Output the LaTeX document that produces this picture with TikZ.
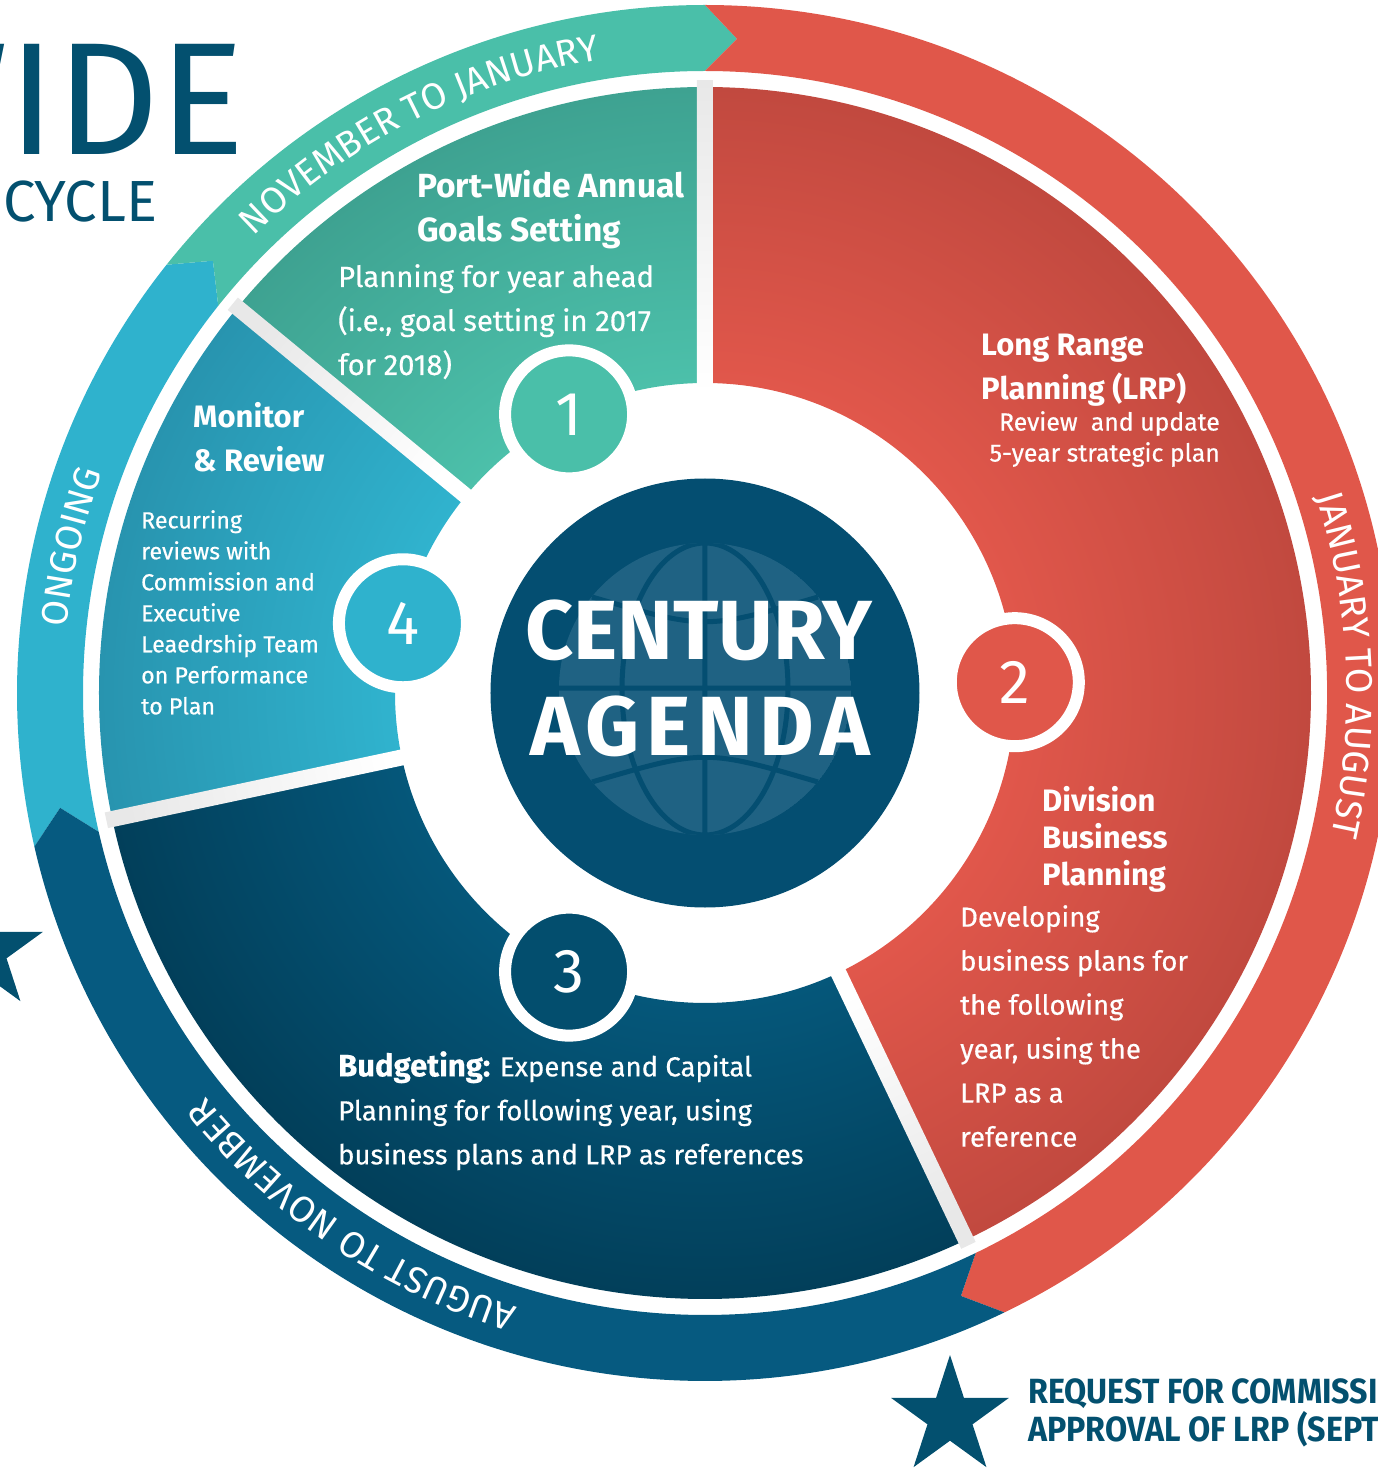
\documentclass[tikz,border=0pt]{standalone}
\usepackage{fontspec}
\setmainfont{Fira Sans}
\newfontfamily\medfont{Fira Sans}[FakeBold=0.5]
\newfontfamily\narrowfont{Fira Sans}[FakeStretch=0.92]
\usetikzlibrary{shapes.geometric,decorations.text}

\definecolor{tealband}{HTML}{4ABFA9}
\definecolor{redband}{HTML}{E0574A}
\definecolor{blueband}{HTML}{065A80}
\definecolor{cyanband}{HTML}{2FB2CD}
\definecolor{tealL}{HTML}{4CC0AA}
\definecolor{tealD}{HTML}{3EA291}
\definecolor{cyanL}{HTML}{30B3CE}
\definecolor{cyanD}{HTML}{2894AF}
\definecolor{blueL}{HTML}{05577A}
\definecolor{blueD}{HTML}{023F5A}
\definecolor{redL}{HTML}{E1574B}
\definecolor{redD}{HTML}{C1493F}
\definecolor{numblue}{HTML}{034E6E}
\definecolor{hubblue}{HTML}{044E71}
\definecolor{globeblue}{HTML}{1F6283}
\definecolor{titleblue}{HTML}{03506F}

% radial shading: flat up to the inner edge, darker towards the rim
\newcommand\sectorshade[3]{\pgfdeclareradialshading{#1}{\pgfpointorigin}{color(0bp)=(#2); color(12.8bp)=(#2); color(25bp)=(#3); color(50bp)=(#3)}}
\sectorshade{tealshade}{tealL}{tealD}
\sectorshade{cyanshade}{cyanL}{cyanD}
\sectorshade{blueshade}{blueL}{blueD}
\sectorshade{redshade}{redL}{redD}

\newcommand\bandfont{\fontsize{37}{37}\selectfont}

\begin{document}
\begin{tikzpicture}[x=1pt,y=1pt,
  numcirc/.style={circle,draw=white,line width=12pt,minimum size=128pt,inner sep=0pt,text=white,font=\fontsize{62}{62}\selectfont},
  sectitle/.style={anchor=north west,align=left,inner sep=0pt,text=white,font=\bfseries\fontsize{31}{44}\selectfont},
  secbody/.style={anchor=north west,align=left,inner sep=0pt,text=white,font=\medfont\fontsize{27.5}{44}\selectfont},
  secsmall/.style={anchor=north west,align=left,inner sep=0pt,text=white,font=\medfont\fontsize{23.2}{31}\selectfont},
  bandtext/.style={decorate,decoration={text along path,text align=center,text color=white}},
  starmark/.style={star,star points=5,star point ratio=2.618,minimum size=124pt,inner sep=0pt,fill=titleblue},
  startext/.style={anchor=base west,inner sep=0pt,text=titleblue,font=\narrowfont\bfseries\fontsize{35}{38}\selectfont}]
  \useasboundingbox (-705,-777) rectangle (672,693);

  % outer bands, tip at the clockwise end and notch at the other
  \foreach \a/\b/\c in {192.9/141.5/cyanband, 141.5/90/tealband, 90/-64.2/redband, -64.2/-167.1/blueband}
    \fill[\c] (\a:688) arc[start angle=\a, end angle=\b, radius=688] -- ({\b-2.8}:655)
      -- (\b:622) arc[start angle=\b, end angle=\a, radius=622] -- ({\a-2.8}:655) -- cycle;

  % sectors
  \foreach \a/\b/\sh in {90/140.5/tealshade, 140.5/192/cyanshade, 192/295.5/blueshade, -64.5/90/redshade}{
    \begin{scope}
      \clip (\a:606) arc[start angle=\a, end angle=\b, radius=606] -- (\b:310)
        arc[start angle=\b, end angle=\a, radius=310] -- cycle;
      \shade[shading=\sh] (0,0) circle (606);
    \end{scope}
  }
  \foreach \t [evaluate=\t as \sa using \t-90] in {90,140.5,192,295.5}
    \shade[top color=black!9, bottom color=white, shading angle=\sa]
      ([rotate=\t]300,-8) -- ([rotate=\t]612,-8) -- ([rotate=\t]612,8) -- ([rotate=\t]300,8) -- cycle;

  % step numbers
  \node[numcirc, fill=tealband] (n1) at (116:310) {1};
  \node[numcirc, fill=redband] (n2) at (2:310) {2};
  \node[numcirc, fill=numblue] (n3) at (244:310) {3};
  \node[numcirc, fill=cyanband] (n4) at (167:310) {4};

  % hub with globe
  \node[circle, fill=hubblue, minimum size=429pt, inner sep=0pt] (hub) at (0,0) {};
  \begin{scope}
    \clip (0,4) circle (146);
    \fill[globeblue] (0,4) circle (146);
    \draw[hubblue, line width=5pt] (0,-150) -- (0,160) (-150,5) -- (150,5) (0,4) ellipse (83 and 146)
      (-113,96) .. controls (0,63) .. (113,96) (-113,-89) .. controls (0,-56) .. (113,-89);
  \end{scope}
  \node[text=white, font=\bfseries\fontsize{84}{84}\selectfont] (century) at (-6,63) {CENTURY};
  \node[text=white, font=\bfseries\fontsize{84}{84}\selectfont\addfontfeatures{LetterSpace=8}] (agenda) at (-5,-33) {AGENDA};

  % sector texts
  \node[sectitle, font=\bfseries\fontsize{33.5}{44}\selectfont] (goalT) at (-288,523) {Port-Wide Annual\\Goals Setting};
  \node[secbody, font=\medfont\fontsize{29.2}{44}\selectfont] (goalB) at (-367,429) {Planning for year ahead\\(i.e., goal setting in 2017\\for 2018)};
  \node[sectitle] (lrpT) at (276,359) {Long Range\\Planning (LRP)};
  \node[secsmall, anchor=north east, align=right, font=\medfont\fontsize{24.8}{31}\selectfont] (lrpB) at (515,282) {Review~ and update\\5-year strategic plan};
  \node[sectitle, font=\bfseries\fontsize{31}{37}\selectfont] (divT) at (337,-93) {Division\\Business\\Planning};
  \node[secbody] (divB) at (255,-212) {Developing\\business plans for\\the following\\year, using the\\LRP as a\\reference};
  \node[secbody] (budB) at (-367,-358) {{\bfseries\fontsize{31}{44}\selectfont Budgeting:} Expense and Capital\\Planning for following year, using\\business plans and LRP as references};
  \node[sectitle] (monT) at (-512,291) {Monitor\\\& Review};
  \node[secsmall] (monB) at (-564,183) {Recurring\\reviews with\\Commission and\\Executive\\Leaedrship Team\\on Performance\\to Plan};

  % band labels
  \path[bandtext, decoration={text={|\bandfont|NOVEMBER TO JANUARY}}] (150:642) arc[start angle=150, end angle=84, radius=642];
  \path[bandtext, decoration={text={|\bandfont|JANUARY TO AUGUST}}] (35:642) arc[start angle=35, end angle=-30, radius=642];
  \path[bandtext, decoration={text={|\bandfont|AUGUST TO NOVEMBER}}] (-91:642) arc[start angle=-91, end angle=-157, radius=642];
  \path[bandtext, decoration={text={|\bandfont|ONGOING}}] (185:642) arc[start angle=185, end angle=149, radius=642];

  % title and legend
  \node[anchor=base east, inner sep=0pt, text=titleblue, font=\fontsize{160}{160}\selectfont] (wide) at (-460,538) {WIDE};
  \node[anchor=base west, inner sep=0pt, text=titleblue, font=\fontsize{58}{58}\selectfont] (cycle) at (-702,471) {CYCLE};
  \node[starmark] (starL) at (-721,-258) {};
  \node[starmark] (starB) at (245,-724) {};
  \node[startext] (req1) at (323,-710) {REQUEST FOR COMMISSI};
  \node[startext] (req2) at (323,-748) {APPROVAL OF LRP (SEPT};
\end{tikzpicture}
\end{document}
